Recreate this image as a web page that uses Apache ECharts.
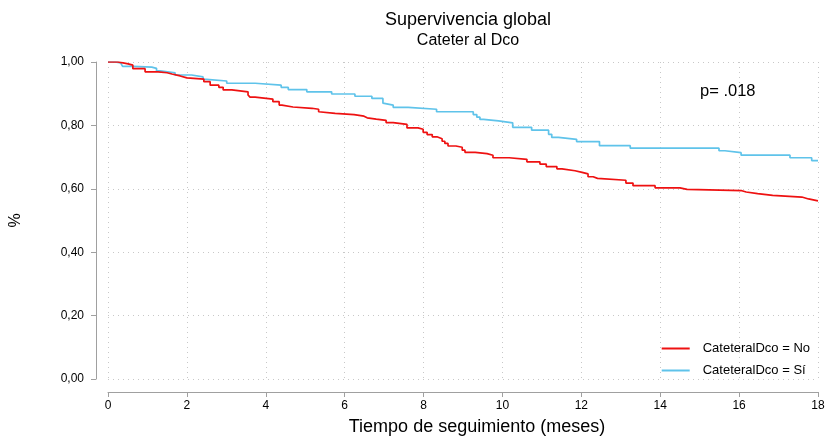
<!DOCTYPE html>
<html>
<head>
<meta charset="utf-8">
<script src="https://cdn.jsdelivr.net/npm/echarts@6/dist/echarts.min.js"></script>
<style>
  html, body { margin: 0; padding: 0; background: #fff; }
  #chart { width: 828px; height: 442px; }
</style>
</head>
<body>
<div id="chart"></div>
<script>
// Kaplan-Meier survival estimates: [months, survival] at each drop
const seriesNames = ['CateteralDco = No', 'CateteralDco = Sí'];

const survNo = [
  [0, 1.0], [0.25, 0.997], [0.38, 0.994], [0.51, 0.99], [0.63, 0.979], [0.94, 0.969],
  [1.27, 0.966], [1.50, 0.962], [1.62, 0.956], [1.83, 0.950], [2.00, 0.946], [2.43, 0.938],
  [2.59, 0.927], [2.81, 0.920], [2.92, 0.912], [3.14, 0.906], [3.55, 0.896], [3.60, 0.889],
  [3.73, 0.883], [4.18, 0.875], [4.34, 0.864], [4.41, 0.858], [4.69, 0.854], [5.17, 0.851],
  [5.34, 0.843], [5.38, 0.838], [5.76, 0.834], [6.24, 0.829], [6.49, 0.824], [6.57, 0.820],
  [6.80, 0.816], [7.05, 0.809], [7.23, 0.803], [7.58, 0.792], [7.86, 0.788], [7.99, 0.778],
  [8.09, 0.771], [8.22, 0.764], [8.34, 0.758], [8.47, 0.750], [8.54, 0.743], [8.62, 0.735],
  [8.82, 0.731], [8.98, 0.722], [9.05, 0.715], [9.31, 0.711], [9.61, 0.706], [9.76, 0.698],
  [10.17, 0.693], [10.62, 0.685], [10.95, 0.678], [11.11, 0.670], [11.38, 0.663], [11.51, 0.657],
  [11.84, 0.652], [12.02, 0.647], [12.17, 0.638], [12.30, 0.633], [12.41, 0.627], [13.13, 0.618],
  [13.31, 0.610], [13.87, 0.603], [14.50, 0.598], [14.68, 0.594], [16.07, 0.590], [16.18, 0.585],
  [16.47, 0.579], [16.85, 0.574], [17.59, 0.568], [17.76, 0.562], [18.0, 0.562]
];

const survSi = [
  [0, 1.0], [0.18, 0.997], [0.32, 0.994], [0.37, 0.986], [0.63, 0.984], [1.11, 0.980],
  [1.23, 0.972], [1.32, 0.966], [1.70, 0.959], [2.12, 0.953], [2.41, 0.945], [2.50, 0.940],
  [3.01, 0.933], [3.73, 0.927], [4.39, 0.920], [4.57, 0.913], [5.04, 0.906], [5.67, 0.899],
  [6.26, 0.892], [6.69, 0.885], [6.97, 0.870], [7.02, 0.864], [7.23, 0.857], [7.61, 0.851],
  [8.33, 0.843], [9.26, 0.834], [9.35, 0.826], [9.43, 0.819], [9.52, 0.814], [9.90, 0.808],
  [10.26, 0.794], [10.74, 0.785], [11.17, 0.772], [11.25, 0.762], [11.42, 0.756], [11.88, 0.749],
  [12.46, 0.736], [13.24, 0.728], [15.49, 0.720], [15.64, 0.714], [16.05, 0.706], [17.29, 0.698],
  [17.84, 0.689], [18.0, 0.689]
];

const xTicks = [0, 2, 4, 6, 8, 10, 12, 14, 16, 18];
const yTicks = [0, 0.2, 0.4, 0.6, 0.8, 1.0];
const pValueText = 'p= .018';

const FONT = '"Liberation Sans", Arial, sans-serif';
const AXIS_GRAY = '#a0a0a0';
const GRID_GRAY = '#c8c8c8';

const chart = echarts.init(document.getElementById('chart'), null, { renderer: 'canvas' });

chart.setOption({
  backgroundColor: '#ffffff',
  animation: false,
  textStyle: { fontFamily: FONT },
  title: {
    text: 'Supervivencia global',
    subtext: 'Cateter al Dco',
    left: 463,
    textAlign: 'center',
    top: 6,
    itemGap: 4,
    textStyle: { fontFamily: FONT, fontSize: 18, fontWeight: 'normal', color: '#000' },
    subtextStyle: { fontFamily: FONT, fontSize: 16, color: '#000' }
  },
  grid: {
    left: 108, right: 10, top: 62, bottom: 63,
    containLabel: false,
    outerBoundsMode: 'none'
  },
  legend: {
    orient: 'vertical',
    right: 13,
    top: 337,
    itemWidth: 28,
    itemHeight: 2,
    itemGap: 9,
    icon: 'rect',
    textStyle: { fontFamily: FONT, fontSize: 13, color: '#000', padding: [0, 0, 0, 8] },
    data: seriesNames
  },
  graphic: [{
    type: 'text',
    left: 700,
    top: 83,
    style: { text: pValueText, font: '16.5px ' + FONT, fill: '#000' }
  }],
  xAxis: {
    type: 'value',
    min: xTicks[0],
    max: xTicks[xTicks.length - 1],
    interval: 2,
    offset: 13,
    name: 'Tiempo de seguimiento (meses)',
    nameLocation: 'middle',
    nameGap: 26,
    nameTextStyle: { fontFamily: FONT, fontSize: 18, color: '#000', padding: [0, 0, 0, 28] },
    axisLine: { show: true, onZero: false, lineStyle: { color: AXIS_GRAY, width: 1 } },
    axisTick: { show: true, length: 5, lineStyle: { color: AXIS_GRAY } },
    axisLabel: { fontFamily: FONT, fontSize: 12, color: '#000', margin: 8 },
    splitLine: { show: true, lineStyle: { color: GRID_GRAY, type: [1, 4], width: 1 } }
  },
  yAxis: {
    type: 'value',
    min: yTicks[0],
    max: yTicks[yTicks.length - 1],
    interval: 0.2,
    offset: 12,
    name: '%',
    nameLocation: 'middle',
    nameGap: 72,
    nameRotate: 90,
    nameTextStyle: { fontFamily: FONT, fontSize: 16, color: '#000' },
    axisLine: { show: true, onZero: false, lineStyle: { color: AXIS_GRAY, width: 1 } },
    axisTick: { show: true, length: 5, lineStyle: { color: AXIS_GRAY } },
    axisLabel: {
      fontFamily: FONT, fontSize: 12, color: '#000', margin: 12,
      formatter: v => v.toFixed(2).replace('.', ',')
    },
    splitLine: { show: true, lineStyle: { color: GRID_GRAY, type: [1, 4], width: 1 } }
  },
  series: [
    {
      name: seriesNames[0],
      type: 'line',
      step: 'end',
      data: survNo,
      showSymbol: false,
      symbol: 'none',
      color: '#ee1111',
      lineStyle: { color: '#ee1111', width: 1.7 },
      z: 3
    },
    {
      name: seriesNames[1],
      type: 'line',
      step: 'end',
      data: survSi,
      showSymbol: false,
      symbol: 'none',
      color: '#5fc3ea',
      lineStyle: { color: '#5fc3ea', width: 1.7 },
      z: 2
    }
  ]
});
</script>
</body>
</html>
